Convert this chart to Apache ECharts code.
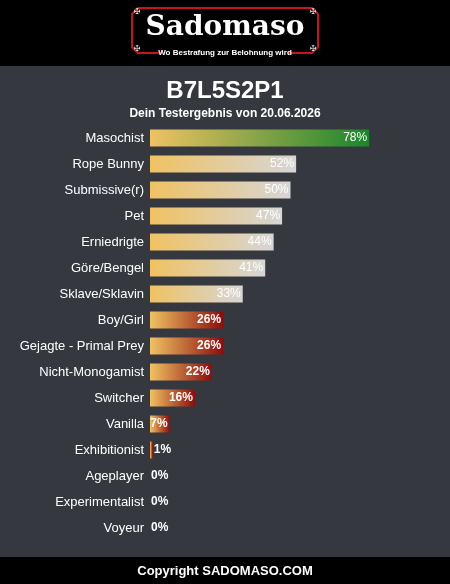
<!DOCTYPE html>
<html><head><meta charset="utf-8">
<script src="https://cdn.jsdelivr.net/npm/echarts@6/dist/echarts.min.js"></script>
<style>html,body{margin:0;padding:0;background:#35383f;}#c{width:450px;height:584px;}</style>
</head><body><div id="c"></div>
<script>
const categories = ["Masochist","Rope Bunny","Submissive(r)","Pet","Erniedrigte","Göre/Bengel","Sklave/Sklavin","Boy/Girl","Gejagte - Primal Prey","Nicht-Monogamist","Switcher","Vanilla","Exhibitionist","Ageplayer","Experimentalist","Voyeur"];
const values = [78,52,50,47,44,41,33,26,26,22,16,7,1,0,0,0];
const titleText = "B7L5S2P1";
const subtitleText = "Dein Testergebnis von 20.06.2026";

function grad(end){
  return new echarts.graphic.LinearGradient(0,0,1,0,[{offset:0,color:'#f0c262'},{offset:1,color:end}]);
}
function endColor(v){ return v>=60 ? '#1a862c' : (v>=30 ? '#d6d6d6' : '#8e0c0c'); }

const data = values.map(v => ({
  value: v,
  itemStyle: {color: grad(endColor(v))},
  label: {
    position: v>=5 ? 'insideRight' : 'right',
    distance: v>=5 ? 2 : 1,
    fontWeight: v<30 ? 'bold' : 'normal'
  }
}));

const chart = echarts.init(document.getElementById('c'), null, {renderer:'canvas'});
chart.setOption({
  backgroundColor:'#35383f',
  animation:false,
  title:[
    {text:titleText,left:'center',top:74,textStyle:{color:'#fff',fontSize:24,fontWeight:'bold',fontFamily:'Liberation Sans'}},
    {text:subtitleText,left:'center',top:103,textStyle:{color:'#fff',fontSize:12,fontWeight:'bold',fontFamily:'Liberation Sans'}}
  ],
  grid:{left:150,top:125,width:281,height:416,containLabel:false},
  xAxis:{type:'value',min:0,max:100,show:false},
  yAxis:{type:'category',data:categories,inverse:true,
    axisLine:{show:false},axisTick:{show:false},splitLine:{show:false},
    axisLabel:{color:'#fff',fontSize:13,margin:6,fontFamily:'Liberation Sans'}},
  series:[{type:'bar',data:data,barWidth:17,
    label:{show:true,color:'#fff',fontSize:12,fontFamily:'Liberation Sans',formatter:'{c}%'}}],
  graphic:[
    {type:'rect',shape:{x:0,y:0,width:450,height:66},style:{fill:'#000'},z:-1},
    {type:'rect',shape:{x:0,y:557,width:450,height:27},style:{fill:'#000'},z:-1},
    {type:'polygon',shape:{points:[[138,8],[312,8],[318,14],[318,47],[312,53],[138,53],[132,47],[132,14]]},
      style:{fill:'#000',stroke:'#c8141a',lineWidth:2}},
    {type:'text',x:225,y:28,style:{text:'Sadomaso',fill:'#fff',font:'bold 28px "DejaVu Serif"',textAlign:'center',textVerticalAlign:'middle'}},
    {type:'rect',shape:{x:162,y:47,width:126,height:12},style:{fill:'#000'}},
    {type:'text',x:225,y:53,style:{text:'Wo Bestrafung zur Belohnung wird',fill:'#fff',font:'bold 8px "Liberation Sans"',textAlign:'center',textVerticalAlign:'middle'}},
    {type:'text',x:137,y:12,style:{text:'✠',fill:'#ddd',font:'8px "DejaVu Sans"',textAlign:'center',textVerticalAlign:'middle'}},
    {type:'text',x:313,y:12,style:{text:'✠',fill:'#ddd',font:'8px "DejaVu Sans"',textAlign:'center',textVerticalAlign:'middle'}},
    {type:'text',x:137,y:49,style:{text:'✠',fill:'#ddd',font:'8px "DejaVu Sans"',textAlign:'center',textVerticalAlign:'middle'}},
    {type:'text',x:313,y:49,style:{text:'✠',fill:'#ddd',font:'8px "DejaVu Sans"',textAlign:'center',textVerticalAlign:'middle'}},
    {type:'text',x:225,y:571,style:{text:'Copyright SADOMASO.COM',fill:'#fff',font:'bold 13px "Liberation Sans"',textAlign:'center',textVerticalAlign:'middle'}}
  ]
});
</script></body></html>
